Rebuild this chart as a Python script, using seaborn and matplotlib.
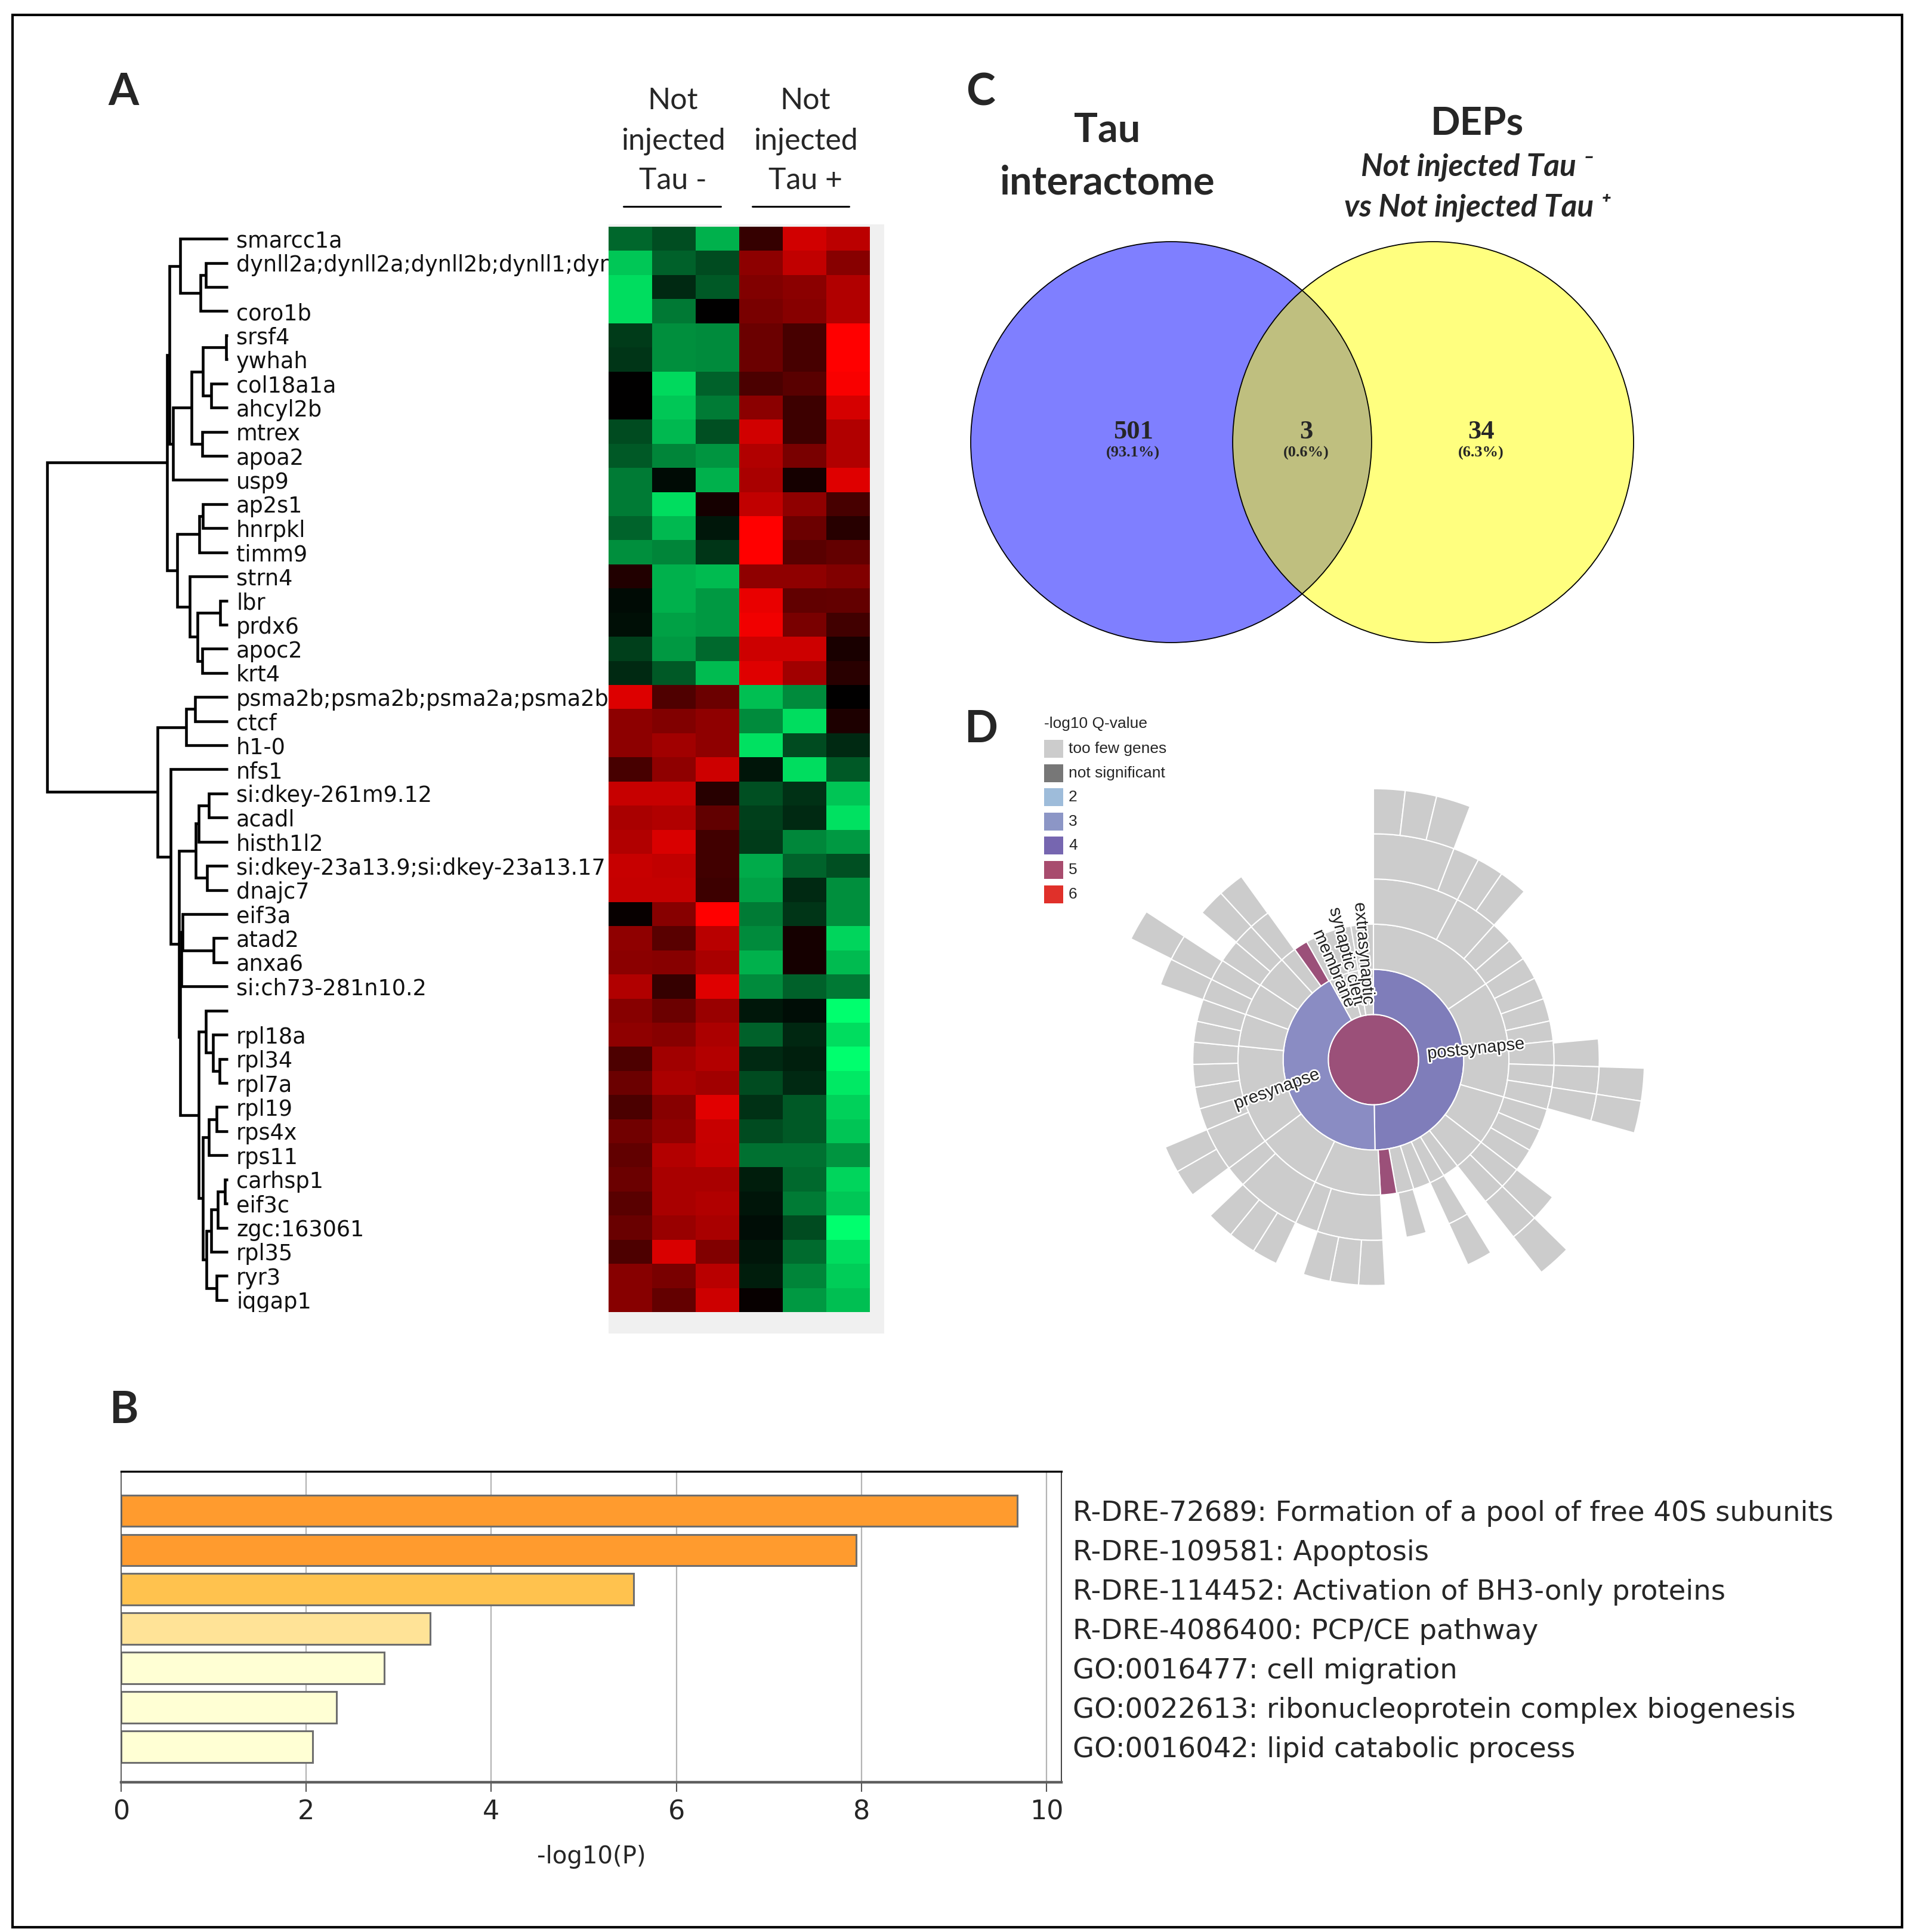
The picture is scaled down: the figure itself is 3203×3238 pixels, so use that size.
import numpy as np
import pandas as pd
import seaborn as sns
import matplotlib.pyplot as plt
import matplotlib.patheffects as pe
from matplotlib.colors import LinearSegmentedColormap
from matplotlib.patches import Circle, Wedge, Rectangle
from matplotlib.lines import Line2D

W, H, DPI = 3203, 3238, 100

# ---------------- A: heatmap ----------------
genes = ["smarcc1a", "dynll2a;dynll2a;dynll2b;dynll1;dynll1", "", "coro1b", "srsf4", "ywhah",
         "col18a1a", "ahcyl2b", "mtrex", "apoa2", "usp9", "ap2s1", "hnrpkl", "timm9", "strn4",
         "lbr", "prdx6", "apoc2", "krt4", "psma2b;psma2b;psma2a;psma2b;psma2a", "ctcf", "h1-0",
         "nfs1", "si:dkey-261m9.12", "acadl", "histh1l2", "si:dkey-23a13.9;si:dkey-23a13.17",
         "dnajc7", "eif3a", "atad2", "anxa6", "si:ch73-281n10.2", "", "rpl18a", "rpl34", "rpl7a",
         "rpl19", "rps4x", "rps11", "carhsp1", "eif3c", "zgc:163061", "rpl35", "ryr3", "iqgap1"]
samples = ["Tau- 1", "Tau- 2", "Tau- 3", "Tau+ 1", "Tau+ 2", "Tau+ 3"]
heat_values = [
    [-0.40, -0.30, -0.69, 0.21, 0.82, 0.73],
    [-0.78, -0.38, -0.29, 0.55, 0.75, 0.53],
    [-0.86, -0.16, -0.35, 0.50, 0.54, 0.69],
    [-0.86, -0.47, 0.00, 0.47, 0.53, 0.69],
    [-0.23, -0.56, -0.54, 0.42, 0.28, 1.00],
    [-0.21, -0.56, -0.54, 0.42, 0.28, 1.00],
    [0.00, -0.85, -0.38, 0.29, 0.35, 0.97],
    [0.00, -0.78, -0.48, 0.54, 0.24, 0.83],
    [-0.29, -0.72, -0.31, 0.82, 0.24, 0.69],
    [-0.35, -0.52, -0.58, 0.69, 0.47, 0.69],
    [-0.48, -0.04, -0.69, 0.66, 0.08, 0.87],
    [-0.48, -0.86, 0.08, 0.75, 0.56, 0.28],
    [-0.39, -0.72, -0.09, 1.00, 0.42, 0.15],
    [-0.56, -0.52, -0.21, 1.00, 0.35, 0.39],
    [0.13, -0.69, -0.73, 0.56, 0.56, 0.50],
    [-0.04, -0.69, -0.60, 0.91, 0.38, 0.39],
    [-0.06, -0.63, -0.60, 0.94, 0.47, 0.25],
    [-0.25, -0.60, -0.41, 0.80, 0.80, 0.10],
    [-0.16, -0.35, -0.73, 0.87, 0.63, 0.16],
    [0.86, 0.31, 0.42, -0.75, -0.54, 0.00],
    [0.55, 0.50, 0.56, -0.54, -0.86, 0.11],
    [0.55, 0.63, 0.56, -0.88, -0.29, -0.16],
    [0.28, 0.56, 0.80, -0.08, -0.86, -0.35],
    [0.78, 0.78, 0.15, -0.31, -0.19, -0.77],
    [0.66, 0.69, 0.38, -0.25, -0.16, -0.88],
    [0.69, 0.85, 0.25, -0.23, -0.53, -0.60],
    [0.78, 0.75, 0.25, -0.67, -0.39, -0.31],
    [0.77, 0.77, 0.24, -0.63, -0.16, -0.56],
    [0.03, 0.53, 1.00, -0.48, -0.21, -0.56],
    [0.56, 0.35, 0.72, -0.54, 0.08, -0.83],
    [0.54, 0.53, 0.66, -0.69, 0.08, -0.73],
    [0.69, 0.21, 0.87, -0.54, -0.38, -0.47],
    [0.53, 0.42, 0.60, -0.09, -0.05, -1.00],
    [0.56, 0.53, 0.67, -0.38, -0.15, -0.86],
    [0.30, 0.63, 0.70, -0.16, -0.12, -1.00],
    [0.42, 0.67, 0.63, -0.29, -0.16, -0.91],
    [0.29, 0.53, 0.88, -0.19, -0.35, -0.82],
    [0.44, 0.56, 0.78, -0.29, -0.35, -0.77],
    [0.38, 0.70, 0.77, -0.44, -0.44, -0.58],
    [0.42, 0.66, 0.66, -0.11, -0.41, -0.83],
    [0.35, 0.66, 0.69, -0.08, -0.48, -0.78],
    [0.41, 0.60, 0.66, -0.05, -0.29, -1.00],
    [0.30, 0.85, 0.50, -0.08, -0.42, -0.86],
    [0.53, 0.47, 0.72, -0.11, -0.52, -0.80],
    [0.53, 0.39, 0.80, 0.03, -0.60, -0.75],
]
header_lines = [["Not", "injected", "Tau -"], ["Not", "injected", "Tau +"]]

# dendrogram: (merge distance, left, right), leaves are row indices
top_tree = (0.337,
            (0.322,
             (0.263, 0, (0.151, (0.122, 1, 2), 3)),
             (0.305, (0.200, (0.137, (0.010, 4, 5), (0.094, 6, 7)), (0.143, 8, 9)), 10)),
            (0.280,
             (0.158, (0.137, 11, 12), 13),
             (0.210, 14, (0.168, (0.042, 15, 16), (0.143, 17, 18)))))
bottom_tree = (0.389,
               (0.231, (0.183, 19, 20), 21),
               (0.316, 22,
                (0.271,
                 (0.179, (0.162, (0.105, 23, 24), 25), (0.116, 26, 27)),
                 (0.263,
                  (0.259, (0.250, 28, (0.078, 29, 30)), 31),
                  (0.162,
                   (0.122, 32, (0.084, 33, (0.046, 34, 35))),
                   (0.137,
                    (0.105, (0.063, 36, 37), 38),
                    (0.120, (0.094, (0.057, (0.016, 39, 40), 41), 42), (0.063, 43, 44))))))))
dendro_tree = (1.0, top_tree, bottom_tree)

# ---------------- B: enrichment bars ----------------
terms = ["R-DRE-72689: Formation of a pool of free 40S subunits",
         "R-DRE-109581: Apoptosis",
         "R-DRE-114452: Activation of BH3-only proteins",
         "R-DRE-4086400: PCP/CE pathway",
         "GO:0016477: cell migration",
         "GO:0022613: ribonucleoprotein complex biogenesis",
         "GO:0016042: lipid catabolic process"]
scores = [9.68, 7.94, 5.54, 3.34, 2.84, 2.33, 2.07]
bar_colors = ["#ff9b2e", "#ff9b2e", "#ffc24e", "#ffe397", "#ffffd4", "#ffffd4", "#ffffd4"]

# ---------------- C: Venn ----------------
venn_titles = ["Tau", "interactome"]
venn_counts = [501, 3, 34]

# ---------------- D: SynGO sunburst ----------------
# spans in degrees clockwise from 12 o'clock, category = -log10 Q colour class
center_cat = "q5"
ring1 = [(0, 179, "q4"), (179, 331, "q3"), (331, 344, "few"), (344, 350.4, "few"), (350.4, 360, "few")]
ring2 = [(0, 56, "few"), (56, 84, "few"), (84, 106, "few"), (106, 127.5, "few"), (127.5, 141.7, "few"),
         (141.7, 148.7, "few"), (148.7, 155.3, "few"), (155.3, 162.7, "few"), (162.7, 170.1, "few"),
         (170.1, 177, "q5"), (177, 205.5, "few"), (205.5, 233.1, "few"), (233.1, 275.8, "few"),
         (275.8, 289.6, "few"), (289.6, 303.5, "few"), (303.5, 317.5, "few"), (317.5, 324.5, "few"),
         (324.5, 330.5, "q5"), (330.5, 344, "few"), (344, 350.4, "few"), (350.4, 360, "few")]
ring3 = [(0, 27.7), (27.7, 41.9), (41.9, 48.9), (48.9, 56), (56, 63.2), (63.2, 70.3), (70.3, 77.6),
         (77.6, 84), (84, 91.8), (91.8, 98.7), (98.7, 106), (106, 112.9), (112.9, 120.1),
         (120.1, 127.5), (127.5, 134.5), (134.5, 141.7), (148.7, 155.3), (163, 169.5), (177, 198.1),
         (198.1, 205.5), (205.5, 226.3), (226.3, 233.1), (233.1, 247.2), (247.2, 254.2),
         (254.2, 261.2), (261.2, 268.5), (268.5, 275.6), (275.6, 282.3), (282.3, 289.5),
         (289.5, 296.4), (296.4, 303.3), (303.3, 310.5), (310.5, 317.4), (317.4, 324.3)]
ring4 = [(0, 20.9), (20.9, 27.7), (27.7, 34.6), (34.6, 41.9), (84.7, 91.8), (91.8, 98.8),
         (98.8, 105.7), (127.5, 134.5), (134.5, 141.7), (148.7, 155.3), (177, 183.8),
         (183.8, 191.1), (191.1, 198.1), (205.5, 212.1), (212.1, 219.2), (219.2, 226.3),
         (233.2, 240.3), (240.3, 247.2), (289.4, 296.4), (296.4, 303.1), (310.6, 317.5),
         (317.5, 324.2)]
ring5 = [(0, 6.75), (6.75, 13.5), (13.5, 20.9), (91.8, 98.8), (98.8, 105.7), (134.5, 141.7),
         (296.5, 303.1)]
sb_colors = {"few": "#cccccc", "q3": "#8a8cc3", "q4": "#7f7dba", "q5": "#9b5079"}
legend_labels = ["too few genes", "not significant", "2", "3", "4", "5", "6"]
legend_colors = ["#cccccc", "#777777", "#9ebcda", "#8c96c6", "#7666b0", "#a84c6e", "#e0302a"]
sb_text = [("postsynapse", 84, 2.28, 6), ("presynapse", 253, 2.24, 20),
           ("membrane", 336.6, 2.2, -66.6), ("synaptic cleft", 345.6, 2.36, -75.6),
           ("extrasynaptic", 355, 2.36, -85)]

# ======================================================
sns.set_theme(style="white")
plt.rcParams['font.family'] = ['DejaVu Sans']

fig = plt.figure(figsize=(W / DPI, H / DPI), dpi=DPI)


def box(left, top, right, bottom):
    return [left / W, 1 - bottom / H, (right - left) / W, (bottom - top) / H]


def fx(x):
    return x / W


def fy(y):
    return 1 - y / H


# ---- panel A ----
fig.patches.append(Rectangle((fx(1020), fy(2235)), fx(1482) - fx(1020), fy(376) - fy(2235),
                             transform=fig.transFigure, facecolor="#f0f0f0", edgecolor="none",
                             zorder=-1))
ax_hm = fig.add_axes(box(1020, 380, 1458, 2199))
heat_df = pd.DataFrame(heat_values, index=genes, columns=samples)
gkr = LinearSegmentedColormap.from_list("gkr", [(0, 1, 0.43), (0, 0, 0), (1, 0, 0)])
sns.heatmap(heat_df, ax=ax_hm, cmap=gkr, vmin=-1, vmax=1, cbar=False,
            xticklabels=False, yticklabels=False)

ax_lab = fig.add_axes(box(396, 380, 1020, 2199))
ax_lab.set_xlim(0, 1)
ax_lab.set_ylim(len(genes), 0)
ax_lab.axis("off")
for i, g in enumerate(genes):
    ax_lab.text(0, i + 0.6, g, ha="left", va="center", fontsize=26.4, color="#111111",
                clip_on=True)

ax_dn = fig.add_axes(box(79, 380, 382, 2199))
ax_dn.set_xlim(1.0, 0.0)
ax_dn.set_ylim(len(genes), 0)
ax_dn.axis("off")


def draw_node(node):
    if isinstance(node, int):
        return node + 0.5, 0.0
    h, a, b = node
    ya, ha = draw_node(a)
    yb, hb = draw_node(b)
    ax_dn.plot([ha, h, h, hb], [ya, ya, yb, yb], color="black", lw=3.3,
               solid_joinstyle="miter", solid_capstyle="butt", clip_on=False)
    return (ya + yb) / 2, h


draw_node(dendro_tree)

for cx, lines in zip([1128, 1350], header_lines):
    for yb, txt in zip([183, 250, 317], lines):
        fig.text(fx(cx), fy(yb), txt, ha="center", va="baseline", fontsize=36,
                 family=["Lato", "DejaVu Sans"])
for x0, x1 in [(1045, 1208), (1261, 1423)]:
    fig.add_artist(Line2D([fx(x0), fx(x1)], [fy(346), fy(346)], color="black", lw=2.2))

# ---- panel B ----
ax_b = fig.add_axes(box(203, 2466, 1779, 2987))
bar_df = pd.DataFrame({"term": terms, "score": scores})
sns.barplot(data=bar_df, x="score", y="term", hue="term", palette=bar_colors, legend=False,
            ax=ax_b, saturation=1, width=0.8, edgecolor="#6e6e6e", linewidth=2.2)
ax_b.set_xlim(0, 10.16)
ax_b.set_ylim(6.9, -1.0)
ax_b.set_xticks([0, 2, 4, 6, 8, 10])
ax_b.grid(axis="x", color="#b4b4b4", lw=1.6)
ax_b.set_axisbelow(True)
ax_b.yaxis.tick_right()
ax_b.tick_params(axis="y", length=0, pad=14, labelsize=33.5, right=False, labelright=True,
                 left=False, labelleft=False)
ax_b.tick_params(axis="x", bottom=True, length=11.5, width=1.5, color="#555555",
                 labelsize=32, pad=9)
ax_b.set_ylabel("")
ax_b.set_xlabel("-log10(P)", fontsize=29, labelpad=24)
ax_b.spines["top"].set_color("black")
ax_b.spines["top"].set_linewidth(2.4)
ax_b.spines["bottom"].set_color("#5e5e5e")
ax_b.spines["bottom"].set_linewidth(3.2)
ax_b.spines["left"].set_color("#555555")
ax_b.spines["left"].set_linewidth(1.3)
ax_b.spines["right"].set_color("#333333")
ax_b.spines["right"].set_linewidth(1.3)

# ---- panel C ----
d = 1.307
ax_v = fig.add_axes(box(1627, 405, 2738, 1077))
ax_v.set_xlim(-1, d + 1)
ax_v.set_ylim(-1, 1)
ax_v.set_aspect("equal")
ax_v.axis("off")
ax_v.add_patch(Circle((0, 0), 1, facecolor="#0000ff", alpha=0.5, edgecolor="none"))
ax_v.add_patch(Circle((d, 0), 1, facecolor="#ffff00", alpha=0.5, edgecolor="none"))
for cx in (0, d):
    ax_v.add_patch(Circle((cx, 0), 1, facecolor="none", edgecolor="black", lw=1.3, clip_on=False))
total = sum(venn_counts)
for xpos, n in zip([-0.19, d / 2 + 0.02, d + 0.24], venn_counts):
    ax_v.text(xpos, 0.05, f"{n}", ha="center", va="center", fontsize=32, fontweight="bold",
              family=["Liberation Serif"])
    ax_v.text(xpos, -0.055, f"({n / total * 100:.1f}%)", ha="center", va="center", fontsize=19,
              fontweight="bold", family=["Liberation Serif"])

title_font = ["Lato", "DejaVu Sans"]
fig.text(fx(1856), fy(238), venn_titles[0], ha="center", va="baseline", fontsize=48,
         fontweight="bold", family=title_font)
fig.text(fx(1856), fy(326), venn_titles[1], ha="center", va="baseline", fontsize=48,
         fontweight="bold", family=title_font)
fig.text(fx(2476), fy(226), "DEPs", ha="center", va="baseline", fontsize=47,
         fontweight="bold", family=title_font)
fig.text(fx(2476), fy(295), "Not injected Tau \u207b", ha="center", va="baseline", fontsize=37,
         fontweight="bold", style="italic", family=title_font)
fig.text(fx(2476), fy(362), "vs Not injected Tau \u207a", ha="center", va="baseline", fontsize=37,
         fontweight="bold", style="italic", family=title_font)

# ---- panel D ----
ring_px = 75.7
half = 470
ax_s = fig.add_axes(box(2302 - half, 1776 - half, 2302 + half, 1776 + half))
lim = half / ring_px
ax_s.set_xlim(-lim, lim)
ax_s.set_ylim(-lim, lim)
ax_s.set_aspect("equal")
ax_s.axis("off")
ax_s.add_patch(Circle((0, 0), 1, facecolor=sb_colors[center_cat], edgecolor="white", lw=1.5))
for level, ring in enumerate([ring1, ring2, ring3, ring4, ring5], start=2):
    for seg in ring:
        s, e = seg[0], seg[1]
        cat = seg[2] if len(seg) > 2 else "few"
        ax_s.add_patch(Wedge((0, 0), level, 90 - e, 90 - s, width=1,
                             facecolor=sb_colors[cat], edgecolor="white", lw=1.5))
halo = [pe.withStroke(linewidth=4, foreground="white")]
for txt, th, r, rot in sb_text:
    t = np.deg2rad(th)
    ax_s.text(r * np.sin(t), r * np.cos(t), txt, rotation=rot, rotation_mode="anchor",
              ha="center", va="center", fontsize=21, color="#222222",
              family=["Liberation Sans"], path_effects=halo)

fig.text(fx(1750), fy(1213), "-log10 Q-value", ha="left", va="center", fontsize=19,
         family=["Liberation Sans"])
for i, (lab, col) in enumerate(zip(legend_labels, legend_colors)):
    yc = 1255 + 40.6 * i
    fig.patches.append(Rectangle((fx(1750), fy(yc + 15)), fx(1782) - fx(1750), fy(yc - 15) - fy(yc + 15),
                                 transform=fig.transFigure, facecolor=col, edgecolor="none"))
    fig.text(fx(1791), fy(yc), lab, ha="left", va="center", fontsize=19,
             family=["Liberation Sans"])

# ---- panel letters and frame ----
for letter, (px, py) in zip("ABCD", [(207, 155), (207, 2363), (1644, 155), (1644, 1223)]):
    fig.text(fx(px), fy(py), letter, ha="center", va="center", fontsize=53, fontweight="bold",
             family=["Lato", "DejaVu Sans"])
fig.patches.append(Rectangle((fx(21), fy(3230)), fx(3188) - fx(21), fy(25) - fy(3230),
                             transform=fig.transFigure, fill=False, edgecolor="black", lw=3,
                             zorder=10))

fig.savefig("out.png", dpi=DPI)
